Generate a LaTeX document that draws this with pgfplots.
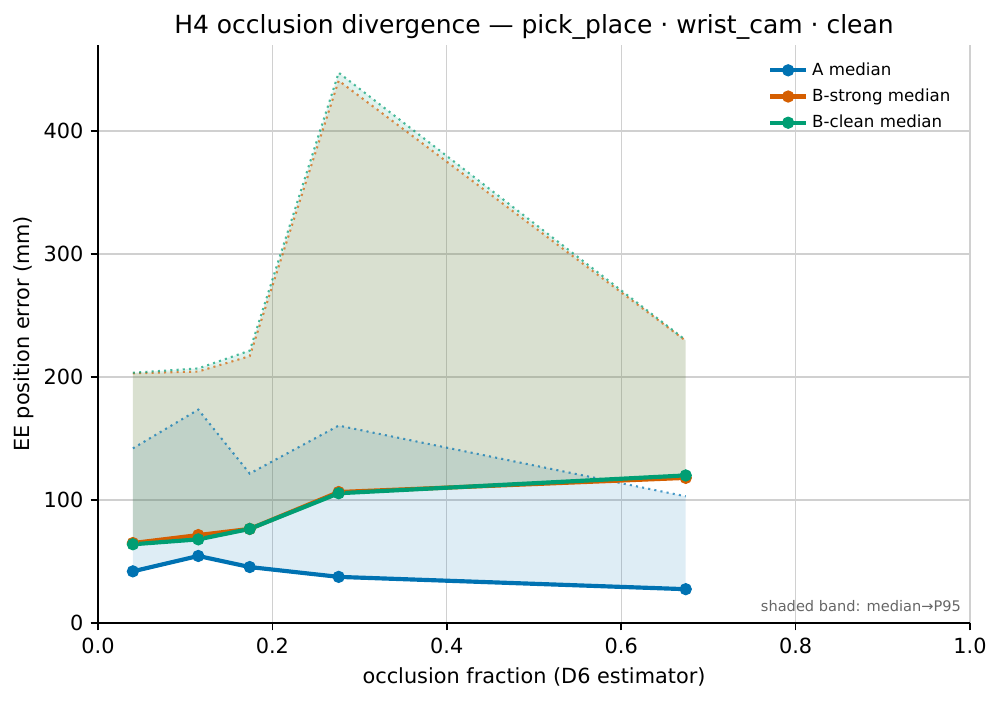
\documentclass[border=0pt]{standalone}
\usepackage{pgfplots}
\pgfplotsset{compat=1.18}
\usepgfplotslibrary{fillbetween}
\usepackage{fontspec}
\setmainfont{DejaVu Sans}

\definecolor{cA}{HTML}{0072B2}
\definecolor{cBs}{HTML}{D55E00}
\definecolor{cBc}{HTML}{009E73}
\definecolor{gridgrey}{HTML}{D0D0D0}

\begin{document}
\begin{tikzpicture}
\begin{axis}[
    at={(0,0)}, anchor=south west,
    scale only axis,
    width=418.56pt, height=277.44pt,
    xmin=0, xmax=1, ymin=0, ymax=470,
    axis lines*=left,
    axis line style={line width=0.8pt, black},
    xtick={0,0.2,0.4,0.6,0.8,1.0},
    ytick={0,100,200,300,400},
    xticklabel style={/pgf/number format/.cd, fixed, fixed zerofill, precision=1},
    /pgf/number format/assume math mode=true,
    tick align=outside,
    major tick length=3.5pt,
    tick style={line width=0.8pt, black},
    grid=major,
    grid style={line width=0.6pt, gridgrey},
    ticklabel style={font=\fontsize{10}{12}\selectfont},
    xlabel={occlusion fraction (D6 estimator)},
    ylabel={EE position error (mm)},
    label style={font=\fontsize{10}{12}\selectfont},
    ylabel style={yshift=-2pt},
    title={H4 occlusion divergence — pick\_place · wrist\_cam · clean},
    title style={font=\fontsize{12}{14}\selectfont, yshift=-7pt},
    legend style={draw=none, fill=none, at={(0.99,0.985)}, anchor=north east,
        font=\fontsize{8}{10}\selectfont, row sep=1pt},
    legend cell align=left,
    every axis plot/.append style={mark size=2.7pt},
]
% P95 bands
\addplot[name path=aP, cA, dotted, line width=1pt, opacity=0.7, forget plot] coordinates {
    (0.040,142) (0.115,173.5) (0.174,121.5) (0.276,160.5) (0.674,103)};
\addplot[name path=bsP, cBs, dotted, line width=1pt, opacity=0.7, forget plot] coordinates {
    (0.040,203) (0.115,204.5) (0.174,217) (0.276,441) (0.674,229.5)};
\addplot[name path=bcP, cBc, dotted, line width=1pt, opacity=0.7, forget plot] coordinates {
    (0.040,203.5) (0.115,207) (0.174,221.5) (0.276,447.5) (0.674,230)};
% medians (paths for fills)
\addplot[name path=aM, draw=none, forget plot] coordinates {
    (0.040,42) (0.115,54.5) (0.174,45.5) (0.276,37.5) (0.674,27.5)};
\addplot[name path=bsM, draw=none, forget plot] coordinates {
    (0.040,65) (0.115,71.5) (0.174,76.5) (0.276,106.5) (0.674,118)};
\addplot[name path=bcM, draw=none, forget plot] coordinates {
    (0.040,64) (0.115,68) (0.174,76.5) (0.276,105.5) (0.674,120)};
\addplot[cA, fill opacity=0.13, draw=none, forget plot] fill between[of=aP and aM];
\addplot[cBs, fill opacity=0.13, draw=none, forget plot] fill between[of=bsP and bsM];
\addplot[cBc, fill opacity=0.13, draw=none, forget plot] fill between[of=bcP and bcM];
% median lines
\addplot[cA, line width=2pt, mark=*, mark options={solid, fill=cA, draw=cA, line width=0.5pt}] coordinates {
    (0.040,42) (0.115,54.5) (0.174,45.5) (0.276,37.5) (0.674,27.5)};
\addlegendentry{A median}
\addplot[cBs, line width=2pt, mark=*, mark options={solid, fill=cBs, draw=cBs, line width=0.5pt}] coordinates {
    (0.040,65) (0.115,71.5) (0.174,76.5) (0.276,106.5) (0.674,118)};
\addlegendentry{B-strong median}
\addplot[cBc, line width=2pt, mark=*, mark options={solid, fill=cBc, draw=cBc, line width=0.5pt}] coordinates {
    (0.040,64) (0.115,68) (0.174,76.5) (0.276,105.5) (0.674,120)};
\addlegendentry{B-clean median}
\node[anchor=south east, inner sep=0pt, text=black!60, font=\fontsize{7}{8.5}\selectfont]
    at (rel axis cs:0.99,0.018) {shaded band: median→P95};
\end{axis}
\pgfresetboundingbox
\path[use as bounding box] (-47.04pt,-37.44pt) rectangle (433.44pt,299.04pt);
\end{tikzpicture}
\end{document}
